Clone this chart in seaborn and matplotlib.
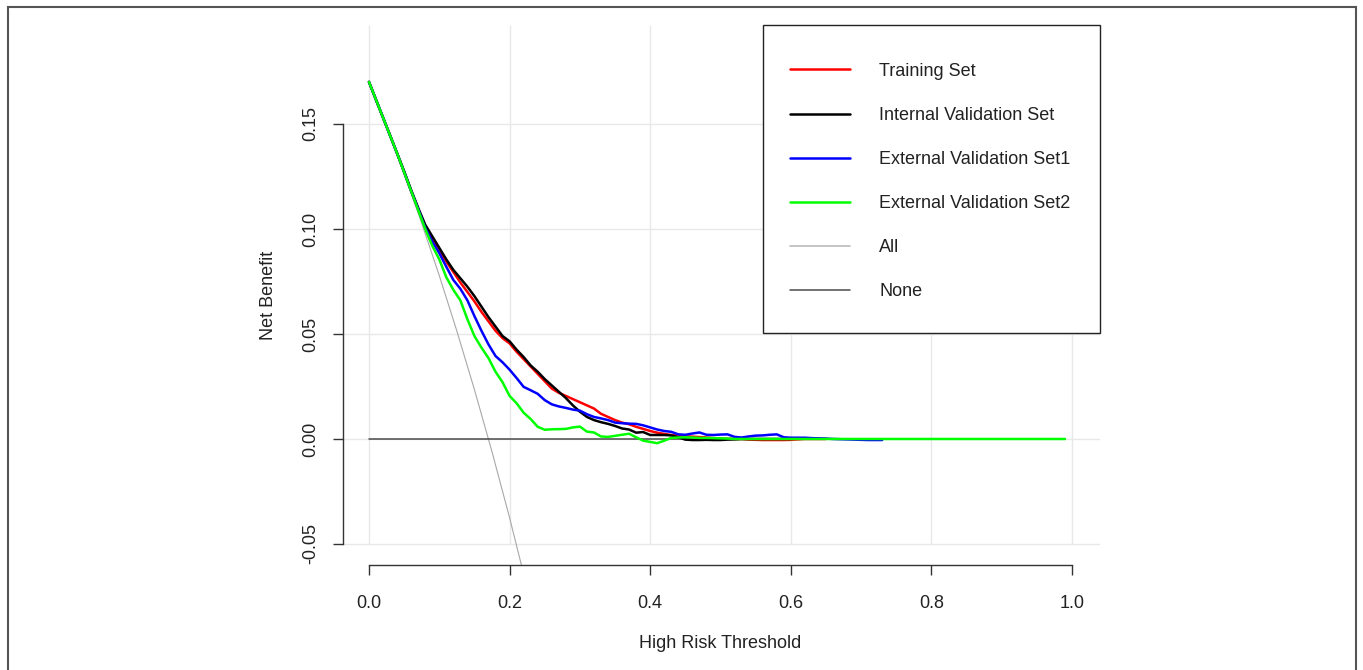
import numpy as np
import pandas as pd
import matplotlib
matplotlib.use("Agg")
import matplotlib.pyplot as plt
from matplotlib.lines import Line2D
from matplotlib.patches import Rectangle
import seaborn as sns

# ---------------- data ----------------
thresholds = [round(0.01 * i, 2) for i in range(100)]

training = [
    0.170, 0.1615, 0.153, 0.1445, 0.136, 0.127, 0.118, 0.1095, 0.1015, 0.0955,
    0.0895, 0.0845, 0.0795, 0.0745, 0.070, 0.0655, 0.0605, 0.056, 0.0515, 0.048,
    0.0455, 0.0415, 0.038, 0.0345, 0.031, 0.0275, 0.024, 0.022, 0.0205, 0.019,
    0.0175, 0.016, 0.0145, 0.012, 0.0105, 0.009, 0.0078, 0.007, 0.0058, 0.0048,
    0.0038, 0.0030, 0.0024, 0.0019, 0.0016, 0.0013, 0.0011, 0.0009, 0.0007, 0.0004,
    0.0002, 0.0001, 0.0, 0.0, -0.0003, -0.0004, -0.0005, -0.0005, -0.0005, -0.0005,
    -0.0004, -0.0002, 0.0, 0.0, 0.0, 0.0,
]

internal = [
    0.170, 0.1615, 0.153, 0.1445, 0.136, 0.1275, 0.1185, 0.110, 0.102, 0.0965,
    0.091, 0.0855, 0.0805, 0.0765, 0.0725, 0.068, 0.063, 0.058, 0.0535, 0.049,
    0.0465, 0.0425, 0.039, 0.035, 0.032, 0.0285, 0.0255, 0.0225, 0.0195, 0.016,
    0.013, 0.0105, 0.009, 0.008, 0.0072, 0.0062, 0.005, 0.0045, 0.003, 0.0033,
    0.0019, 0.0019, 0.0019, 0.0017, 0.0008, -0.0003, -0.0005, -0.0005, -0.0004, -0.0005,
    -0.0005, -0.0003, -0.0002, 0.0, 0.0, 0.0, 0.0, 0.0, 0.0, 0.0,
    0.0,
]

external1 = [
    0.170, 0.1615, 0.153, 0.1445, 0.136, 0.127, 0.118, 0.1095, 0.1005, 0.094,
    0.0885, 0.082, 0.0757, 0.0715, 0.066, 0.0585, 0.0515, 0.045, 0.0395, 0.0365,
    0.033, 0.029, 0.0248, 0.0232, 0.0215, 0.0185, 0.0165, 0.0155, 0.0148, 0.0140,
    0.0135, 0.0118, 0.0105, 0.0098, 0.009, 0.0078, 0.0075, 0.0073, 0.0072, 0.0065,
    0.0055, 0.0045, 0.0038, 0.0034, 0.0022, 0.0020, 0.0026, 0.0031, 0.0020, 0.0019,
    0.0021, 0.0022, 0.0010, 0.0007, 0.0012, 0.0016, 0.0017, 0.0020, 0.0022, 0.0008,
    0.0006, 0.0006, 0.0006, 0.0004, 0.0003, 0.0002, 0.0, -0.0001, -0.0002, -0.0003,
    -0.0004, -0.0005, -0.0005, -0.0005,
]

external2 = [
    0.170, 0.1615, 0.153, 0.1445, 0.136, 0.127, 0.118, 0.109, 0.100, 0.092,
    0.0855, 0.077, 0.071, 0.066, 0.057, 0.049, 0.0435, 0.0385, 0.032, 0.027,
    0.0205, 0.017, 0.0125, 0.0095, 0.0058, 0.0044, 0.0046, 0.0047, 0.0048, 0.0055,
    0.0059, 0.0035, 0.0031, 0.0012, 0.0010, 0.0015, 0.0020, 0.0025, 0.0008, -0.0008,
    -0.0014, -0.0020, -0.0008, 0.0005, 0.0007, 0.0008, 0.0007, 0.0005, 0.0005, 0.0004,
    0.0003, 0.0002, 0.0, 0.0, 0.0, 0.0, 0.0, 0.0, 0.0, 0.0,
    0.0, 0.0, 0.0, 0.0, 0.0, 0.0, 0.0, 0.0, 0.0, 0.0,
    0.0, 0.0, 0.0, 0.0, 0.0, 0.0, 0.0, 0.0, 0.0, 0.0,
    0.0, 0.0, 0.0, 0.0, 0.0, 0.0, 0.0, 0.0, 0.0, 0.0,
    0.0, 0.0, 0.0, 0.0, 0.0, 0.0, 0.0, 0.0, 0.0, 0.0,
]

all_thresholds = [0.0, 0.025, 0.05, 0.075, 0.10, 0.125, 0.15, 0.175, 0.20, 0.225, 0.25]
all_values = [0.170, 0.1487, 0.1263, 0.1027, 0.0778, 0.0514, 0.0235, -0.0061, -0.0375, -0.0710, -0.1067]

none_thresholds = [0.0, 0.99]
none_values = [0.0, 0.0]

series_names = ["Training Set", "Internal Validation Set",
                "External Validation Set1", "External Validation Set2", "All", "None"]
x_ticks = [0.0, 0.2, 0.4, 0.6, 0.8, 1.0]
x_tick_labels = ["0.0", "0.2", "0.4", "0.6", "0.8", "1.0"]
y_ticks = [-0.05, 0.0, 0.05, 0.10, 0.15]
y_tick_labels = ["-0.05", "0.00", "0.05", "0.10", "0.15"]

# ---------------- style ----------------
sns.set_style("white")
plt.rcParams["font.family"] = ["Liberation Sans", "DejaVu Sans"]
plt.rcParams["font.size"] = 13

W, H = 1363, 670
fig = plt.figure(figsize=(W / 100, H / 100), dpi=100)
ax = fig.add_axes([341 / W, 1 - 565 / H, 759 / W, 540 / H])

x_lo, x_hi = -0.0398, 1.0398
y_lo, y_hi = -0.06, 0.1971
ax.set_xlim(x_lo, x_hi)
ax.set_ylim(y_lo, y_hi)

grid_color = "#e8e8e8"
ax.vlines(x_ticks, -0.05, y_hi, color=grid_color, lw=1.0, zorder=0)
ax.hlines(y_ticks, x_lo, x_hi, color=grid_color, lw=1.0, zorder=0)

colors = ["#ff0000", "#000000", "#0000ff", "#00ff00"]
curves = [training, internal, external1, external2]

sns.lineplot(x=all_thresholds, y=all_values, color="#a8a8a8", lw=0.8, ax=ax,
             estimator=None, sort=False, legend=False, zorder=2)
sns.lineplot(x=none_thresholds, y=none_values, color="#4a4a4a", lw=1.1, ax=ax,
             estimator=None, sort=False, legend=False, zorder=2)
for vals, col in zip(curves, colors):
    sns.lineplot(x=thresholds[:len(vals)], y=vals, color=col, lw=1.8, ax=ax,
                 estimator=None, sort=False, legend=False, zorder=3)

# axes in R style
for s in ["top", "right"]:
    ax.spines[s].set_visible(False)
ax.spines["left"].set_bounds(-0.05, 0.15)
ax.spines["bottom"].set_bounds(0.0, 1.0)
for s in ["left", "bottom"]:
    ax.spines[s].set_color("#333333")
    ax.spines[s].set_linewidth(1.0)
ax.spines["left"].set_position(("outward", -1.5))

ax.set_xticks(x_ticks)
ax.set_xticklabels(x_tick_labels)
ax.set_yticks(y_ticks)
ax.set_yticklabels(y_tick_labels, rotation=90, va="center")
ax.tick_params(axis="both", direction="out", length=7.5, width=1.0, color="#333333",
               labelsize=13, labelcolor="#222222", left=True, bottom=True)
ax.tick_params(axis="x", pad=14)
ax.tick_params(axis="y", pad=10)

ax.set_xlabel("High Risk Threshold", fontsize=13, color="#222222", labelpad=16.5)
ax.set_ylabel("Net Benefit", fontsize=13, color="#222222", labelpad=18)

# legend box
ax.add_patch(Rectangle((0.556, 0.4296), 0.444, 0.5704, transform=ax.transAxes,
                       facecolor="white", edgecolor="#222222", lw=1.0, zorder=5,
                       clip_on=False))
handles = [
    Line2D([], [], color="#ff0000", lw=1.8),
    Line2D([], [], color="#000000", lw=1.8),
    Line2D([], [], color="#0000ff", lw=1.8),
    Line2D([], [], color="#00ff00", lw=1.8),
    Line2D([], [], color="#c0c0c0", lw=1.3),
    Line2D([], [], color="#4a4a4a", lw=1.1),
]
leg = ax.legend(handles, series_names, loc="upper left",
                bbox_to_anchor=(0.5916, 0.930), frameon=False,
                borderpad=0, borderaxespad=0, handlelength=3.33,
                handletextpad=1.6, labelspacing=1.5, fontsize=13)
leg.set_zorder(6)
for t in leg.get_texts():
    t.set_color("#222222")

# outer frame of the figure
fig.patches.append(Rectangle((8 / W, -0.05), (1356 - 8) / W, 1 - 6.5 / H + 0.05,
                             transform=fig.transFigure, fill=False,
                             edgecolor="#555555", lw=1.5))

fig.savefig("out.png", dpi=100)
